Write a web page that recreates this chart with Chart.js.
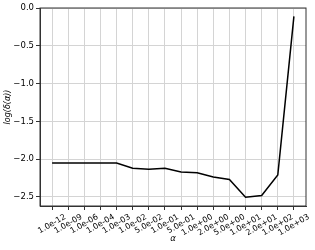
<!DOCTYPE html>
<html><head><meta charset="utf-8">
<script src="https://cdn.jsdelivr.net/npm/chart.js@4"></script>
<style>html,body{margin:0;padding:0;background:#fff}#c{display:block}</style>
</head><body>
<canvas id="c" width="315" height="250"></canvas>
<script>
const categories = ["1.0e-12","1.0e-09","1.0e-06","1.0e-04","1.0e-03","1.0e-02","5.0e-02","1.0e-01","5.0e-01","1.0e+00","2.0e+00","5.0e+00","1.0e+01","2.0e+01","1.0e+02","1.0e+03"];
const logDelta = [-2.05,-2.05,-2.05,-2.05,-2.05,-2.12,-2.135,-2.12,-2.17,-2.18,-2.235,-2.27,-2.505,-2.48,-2.21,-0.11];
const yTicks = [-2.5,-2.0,-1.5,-1.0,-0.5,0.0];

const FONT = "'DejaVu Sans', sans-serif";
const fmt = v => (v < 0 ? "\u2212" : "") + Math.abs(v).toFixed(1);

new Chart(document.getElementById('c'), {
  type: 'line',
  data: {
    datasets: [{
      data: logDelta.map((v, i) => ({x: i, y: v})),
      borderColor: '#000', borderWidth: 1.5, pointRadius: 0, tension: 0, fill: false
    }]
  },
  options: {
    responsive: false, animation: false, devicePixelRatio: 1,
    layout: {padding: {left: 0, right: 9, top: 8, bottom: 0}},
    plugins: {legend: {display: false}, tooltip: {enabled: false}},
    scales: {
      x: {
        type: 'linear', min: -0.75, max: categories.length - 0.25,
        afterBuildTicks: s => { s.ticks = categories.map((c, i) => ({value: i})); },
        afterFit: s => { s.height = 44; },
        ticks: {
          autoSkip: false, minRotation: 0, maxRotation: 0, padding: 1,
          color: 'rgba(0,0,0,0)', font: {family: FONT, size: 8},
          callback: (v) => categories[v]
        },
        grid: {color: '#d4d4d4', tickColor: '#333', tickLength: 4, lineWidth: 1},
        border: {color: '#333', width: 1},
        title: {display: true, text: 'α', color: '#000', font: {family: FONT, size: 8.5, style: 'italic'}, padding: {top: 0, bottom: 6}}
      },
      y: {
        type: 'linear', min: -2.62, max: 0,
        afterBuildTicks: s => { s.ticks = yTicks.map(v => ({value: v})); },
        afterFit: s => { s.width = 40; },
        ticks: {color: '#000', font: {family: FONT, size: 8.5}, padding: 2, callback: v => fmt(v)},
        grid: {color: '#d4d4d4', tickColor: '#333', tickLength: 4, lineWidth: 1},
        border: {color: '#333', width: 1},
        title: {display: true, text: 'log(δ(α))', color: '#000', font: {family: FONT, size: 8, style: 'italic'}, padding: {top: 3, bottom: 2}}
      }
    }
  },
  plugins: [{
    id: 'frame',
    afterDatasetsDraw(chart) {
      const {ctx, chartArea: a} = chart;
      ctx.save(); ctx.strokeStyle = '#333'; ctx.lineWidth = 1;
      ctx.strokeRect(a.left, a.top, a.right - a.left, a.bottom - a.top);
      ctx.restore();
    },
    afterDraw(chart) {
      const {ctx, chartArea: a} = chart;
      const xs = chart.scales.x;
      const ang = 30 * Math.PI / 180;
      ctx.save();
      ctx.font = "8px " + FONT;
      ctx.fillStyle = '#000';
      ctx.textAlign = 'center';
      ctx.textBaseline = 'middle';
      const h = 8;
      categories.forEach((lab, i) => {
        const x = xs.getPixelForValue(i);
        const w = ctx.measureText(lab).width;
        const boxH = w * Math.sin(ang) + h * Math.cos(ang);
        const cy = a.bottom + 7 + boxH / 2;
        ctx.save();
        ctx.translate(x, cy);
        ctx.rotate(-ang);
        ctx.fillText(lab, 0, 0);
        ctx.restore();
      });
      ctx.restore();
    }
  }]
});
</script>
</body></html>
